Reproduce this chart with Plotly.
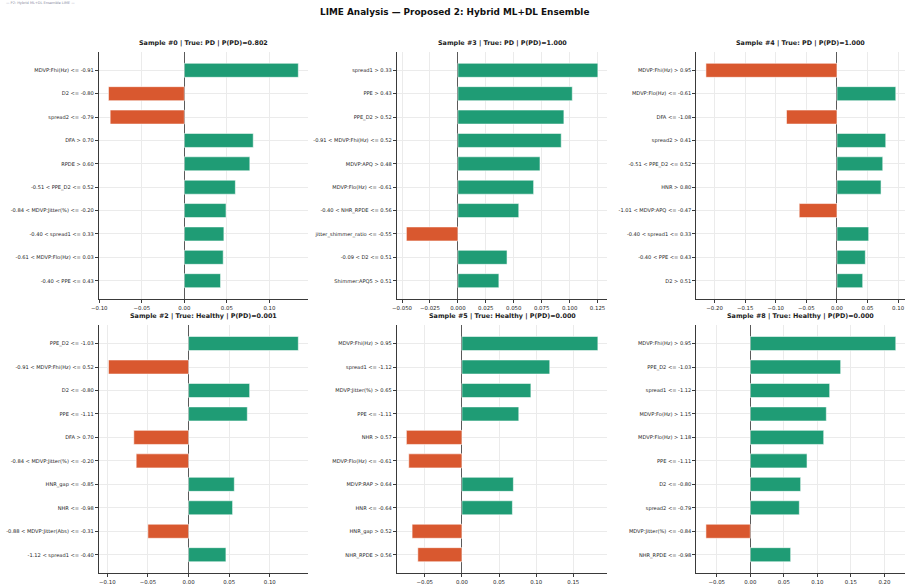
import plotly.graph_objects as go
from plotly.subplots import make_subplots

main_title = "LIME Analysis — Proposed 2: Hybrid ML+DL Ensemble"
corner_note = "— P2: Hybrid ML+DL Ensemble LIME —"

titles = [
    "Sample #0 | True: PD | P(PD)=0.802",
    "Sample #3 | True: PD | P(PD)=1.000",
    "Sample #4 | True: PD | P(PD)=1.000",
    "Sample #2 | True: Healthy | P(PD)=0.001",
    "Sample #5 | True: Healthy | P(PD)=0.000",
    "Sample #8 | True: Healthy | P(PD)=0.000",
]

features_0 = ["MDVP:Fhi(Hz) <= -0.91", "D2 <= -0.80", "spread2 <= -0.79", "DFA > 0.70",
              "RPDE > 0.60", "-0.51 < PPE_D2 <= 0.52", "-0.84 < MDVP:Jitter(%) <= -0.20",
              "-0.40 < spread1 <= 0.33", "-0.61 < MDVP:Flo(Hz) <= 0.03", "-0.40 < PPE <= 0.43"]
weights_0 = [0.134, -0.0892, -0.0872, 0.081, 0.077, 0.060, 0.049, 0.0465, 0.0457, 0.0426]

features_3 = ["spread1 > 0.33", "PPE > 0.43", "PPE_D2 > 0.52", "-0.91 < MDVP:Fhi(Hz) <= 0.52",
              "MDVP:APQ > 0.48", "MDVP:Flo(Hz) <= -0.61", "-0.40 < NHR_RPDE <= 0.56",
              "jitter_shimmer_ratio <= -0.55", "-0.09 < D2 <= 0.51", "Shimmer:APQ5 > 0.51"]
weights_3 = [0.1253, 0.1024, 0.0949, 0.0925, 0.0735, 0.0678, 0.0545, -0.0461, 0.0440, 0.0367]

features_4 = ["MDVP:Fhi(Hz) > 0.95", "MDVP:Flo(Hz) <= -0.61", "DFA <= -1.08", "spread2 > 0.41",
              "-0.51 < PPE_D2 <= 0.52", "HNR > 0.80", "-1.01 < MDVP:APQ <= -0.47",
              "-0.40 < spread1 <= 0.33", "-0.40 < PPE <= 0.43", "D2 > 0.51"]
weights_4 = [-0.2142, 0.0962, -0.0825, 0.0798, 0.0749, 0.0721, -0.0617, 0.0519, 0.0464, 0.0421]

features_2 = ["PPE_D2 <= -1.03", "-0.91 < MDVP:Fhi(Hz) <= 0.52", "D2 <= -0.80", "PPE <= -1.11",
              "DFA > 0.70", "-0.84 < MDVP:Jitter(%) <= -0.20", "HNR_gap <= -0.85", "NHR <= -0.98",
              "-0.88 < MDVP:Jitter(Abs) <= -0.31", "-1.12 < spread1 <= -0.40"]
weights_2 = [0.1351, -0.0986, 0.0752, 0.0723, -0.0674, -0.0645, 0.0563, 0.0542, -0.0501, 0.0460]

features_5 = ["MDVP:Fhi(Hz) > 0.95", "spread1 <= -1.12", "MDVP:Jitter(%) > 0.65", "PPE <= -1.11",
              "NHR > 0.57", "MDVP:Flo(Hz) <= -0.61", "MDVP:RAP > 0.64", "HNR <= -0.64",
              "HNR_gap > 0.52", "NHR_RPDE > 0.56"]
weights_5 = [0.1831, 0.1183, 0.0929, 0.0766, -0.0748, -0.0716, 0.0693, 0.0680, -0.0671, -0.0594]

features_8 = ["MDVP:Fhi(Hz) > 0.95", "PPE_D2 <= -1.03", "spread1 <= -1.12", "MDVP:Fo(Hz) > 1.15",
              "MDVP:Flo(Hz) > 1.18", "PPE <= -1.11", "D2 <= -0.80", "spread2 <= -0.79",
              "MDVP:Jitter(%) <= -0.84", "NHR_RPDE <= -0.98"]
weights_8 = [0.2170, 0.1348, 0.1184, 0.1134, 0.1095, 0.0846, 0.0751, 0.0731, -0.0662, 0.0602]

panels = [
    (features_0, weights_0, 0.05, ".2f"),
    (features_3, weights_3, 0.025, ".3f"),
    (features_4, weights_4, 0.05, ".2f"),
    (features_2, weights_2, 0.05, ".2f"),
    (features_5, weights_5, 0.05, ".2f"),
    (features_8, weights_8, 0.05, ".2f"),
]

POS = "#1f9c75"
NEG = "#d9582f"
SPINE = "#3a3a3a"
GRID = "#ebebeb"
FONT = "DejaVu Sans"

fig = make_subplots(rows=2, cols=3)

xdoms = [[0.109, 0.339], [0.437, 0.669], [0.767, 0.997]]
ydoms = [[0.489, 0.911], [0.0205, 0.444]]

for i, (feats, wts, dt, fmt) in enumerate(panels):
    r, c = i // 3 + 1, i % 3 + 1
    colors = [POS if w > 0 else NEG for w in wts]
    fig.add_trace(go.Bar(
        x=wts, y=feats, orientation="h", width=0.6,
        marker=dict(color=colors, line=dict(color="rgba(255,255,255,0.7)", width=0.8)),
        showlegend=False, hoverinfo="x+y"), row=r, col=c)
    lo, hi = min(0, min(wts)), max(0, max(wts))
    pad = 0.05 * (hi - lo)
    n = len(feats)
    fig.update_xaxes(range=[lo - pad, hi + pad], dtick=dt, tick0=0, tickformat=fmt,
                     domain=xdoms[c - 1], automargin=False,
                     showgrid=True, gridcolor=GRID, gridwidth=0.8,
                     zeroline=True, zerolinecolor="#5a5a5a", zerolinewidth=1.2,
                     showline=True, linecolor=SPINE, linewidth=1.2, mirror=False,
                     ticks="outside", ticklen=3, tickwidth=0.8, tickcolor=SPINE,
                     tickfont=dict(family=FONT, size=5.4, color="#262626"),
                     row=r, col=c)
    fig.update_yaxes(type="category", categoryorder="array", categoryarray=feats,
                     range=[n - 1 + 0.78, -0.78], domain=ydoms[r - 1], automargin=False,
                     showgrid=True, gridcolor=GRID, gridwidth=0.8,
                     showline=True, linecolor=SPINE, linewidth=1.2, mirror=False,
                     ticks="outside", ticklen=3, tickwidth=0.8, tickcolor=SPINE,
                     tickfont=dict(family=FONT, size=5.1, color="#262626"),
                     row=r, col=c)
    xd = xdoms[c - 1]
    fig.add_annotation(text="<b>" + titles[i] + "</b>", xref="paper", yref="paper",
                       x=(xd[0] + xd[1]) / 2, y=ydoms[r - 1][1] + 0.006,
                       xanchor="center", yanchor="bottom", showarrow=False,
                       font=dict(family=FONT, size=6.4, color="#1a1a1a"))

fig.add_annotation(text="<b>" + main_title + "</b>", xref="paper", yref="paper",
                   x=0.5, y=1 - 12 / 585, xanchor="center", yanchor="middle", showarrow=False,
                   font=dict(family=FONT, size=8.9, color="#111111"))
fig.add_annotation(text=corner_note, xref="paper", yref="paper",
                   x=0.004, y=1 - 3 / 585, xanchor="left", yanchor="middle", showarrow=False,
                   font=dict(family=FONT, size=3.5, color="#8a8aa0"))

fig.update_layout(width=908, height=585, margin=dict(l=0, r=0, t=0, b=0),
                  paper_bgcolor="white", plot_bgcolor="white", bargap=0.4,
                  font=dict(family=FONT))

fig.write_html("out.html")
